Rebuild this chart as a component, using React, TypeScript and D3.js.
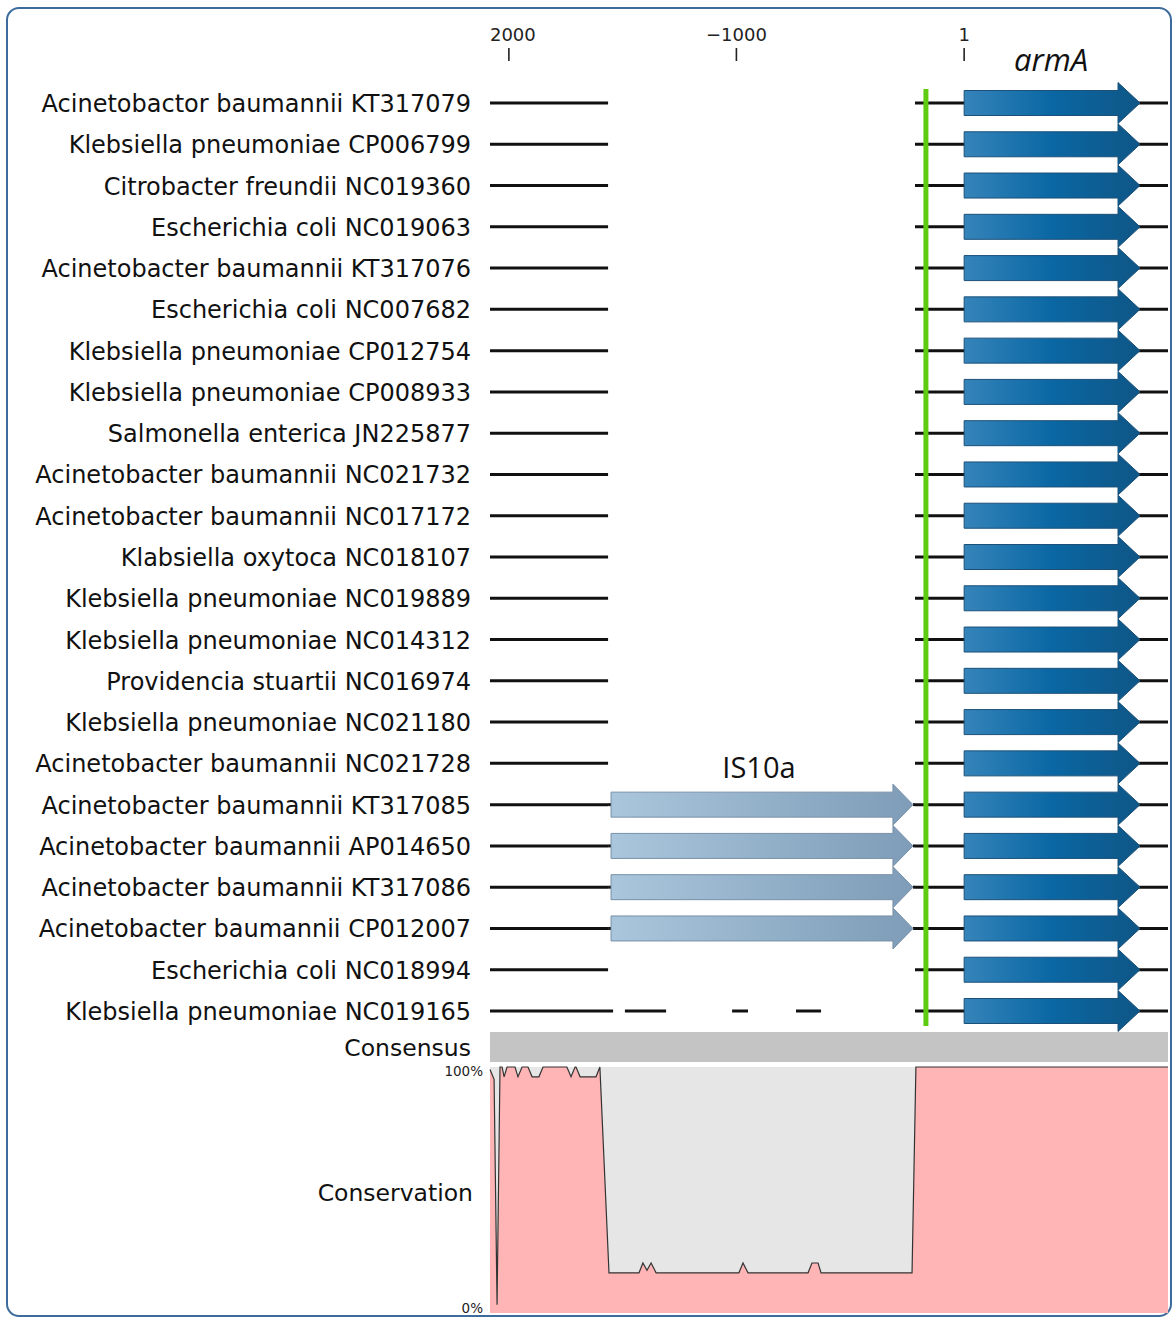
import React from "react";
import * as d3 from "d3";

// Sequence names, top to bottom
const rowNames = [
  "Acinetobactor baumannii KT317079",
  "Klebsiella pneumoniae CP006799",
  "Citrobacter freundii NC019360",
  "Escherichia coli NC019063",
  "Acinetobacter baumannii KT317076",
  "Escherichia coli NC007682",
  "Klebsiella pneumoniae CP012754",
  "Klebsiella pneumoniae CP008933",
  "Salmonella enterica JN225877",
  "Acinetobacter baumannii NC021732",
  "Acinetobacter baumannii NC017172",
  "Klabsiella oxytoca NC018107",
  "Klebsiella pneumoniae NC019889",
  "Klebsiella pneumoniae NC014312",
  "Providencia stuartii NC016974",
  "Klebsiella pneumoniae NC021180",
  "Acinetobacter baumannii NC021728",
  "Acinetobacter baumannii KT317085",
  "Acinetobacter baumannii AP014650",
  "Acinetobacter baumannii KT317086",
  "Acinetobacter baumannii CP012007",
  "Escherichia coli NC018994",
  "Klebsiella pneumoniae NC019165",
];

// Sequences that carry the IS10a insertion
const is10aCarriers = ["KT317085", "AP014650", "KT317086", "CP012007"];
// Sequence with a fragmented upstream region
const gappedRow = "NC019165";

// Positions in bp relative to the armA start codon
const alignmentSpan = [-2083, 897];
const upstreamFlank = [-2083, -1564];
const downstreamFlank = [-215, 897];
const gappedSegments = [
  [-2083, -1542],
  [-1490, -1309],
  [-1019, -949],
  [-738, -628],
  [-215, 897],
];
const is10aSpan = [-1551, -224];
const armASpan = [1, 774];
const markerPos = -167;

const axisTicks = [-2000, -1000, 1];
const axisTickLabels = ["2000", "\u22121000", "1"];

// Conservation profile (% identity along the alignment)
const consPos = [
  -2083, -2065, -2052, -2039, -2030, -2021, -2008, -1973, -1960, -1942, -1916,
  -1898, -1868, -1850, -1745, -1727, -1709, -1705, -1687, -1617, -1600, -1560,
  -1428, -1411, -1393, -1375, -1353, -989, -971, -949, -685, -668, -641, -628,
  -228, -211, 897,
];
const consPct = [
  99, 95, 3, 100, 100, 96, 100, 100, 96, 100, 100, 96, 96, 100, 100, 96, 100,
  100, 96, 96, 100, 16, 16, 20, 17, 20, 16, 16, 20, 16, 16, 20, 20, 16, 16,
  100, 100,
];

const W = 1173;
const H = 1317;

export default function App() {
  const x = d3.scaleLinear().domain(alignmentSpan).range([490, 1168]);
  const y = d3
    .scaleLinear()
    .domain([0, rowNames.length - 1])
    .range([103, 1011]);
  const yc = d3.scaleLinear().domain([0, 100]).range([1312, 1067]);

  const bodyHalf = 12.5;
  const headHalf = 20.5;

  const arrowPath = (x0: number, x1: number, head: number, cy: number) => {
    const xb = x1 - head;
    return d3.line()([
      [x0, cy - bodyHalf],
      [xb, cy - bodyHalf],
      [xb, cy - headHalf],
      [x1, cy],
      [xb, cy + headHalf],
      [xb, cy + bodyHalf],
      [x0, cy + bodyHalf],
    ]) + "Z";
  };

  const consData = consPos.map((p, i) => [p, consPct[i]] as [number, number]);
  const gapArea = d3
    .area<[number, number]>()
    .x((d) => x(d[0]))
    .y0(yc(100))
    .y1((d) => yc(d[1]))(consData);
  const consLine = d3
    .line<[number, number]>()
    .x((d) => x(d[0]))
    .y((d) => yc(d[1]))(consData);

  const labelFont = "'DejaVu Sans', Verdana, sans-serif";
  const featFont = "'Open Sans', 'DejaVu Sans', sans-serif";

  return (
    <svg
      width={W}
      height={H}
      style={{ position: "absolute", left: 0, top: 0, background: "#fff" }}
    >
      <defs>
        <linearGradient id="armGrad" x1="0" x2="1" y1="0" y2="0">
          <stop offset="0" stopColor="#3584ba" />
          <stop offset="0.5" stopColor="#0a67a3" />
          <stop offset="1" stopColor="#0f5686" />
        </linearGradient>
        <linearGradient id="isGrad" x1="0" x2="1" y1="0" y2="0">
          <stop offset="0" stopColor="#a9c6dc" />
          <stop offset="1" stopColor="#7f9cb8" />
        </linearGradient>
      </defs>

      <rect
        x={7}
        y={8}
        width={1164}
        height={1308}
        rx={12}
        fill="none"
        stroke="#3d6c9c"
        strokeWidth={2}
      />

      {/* top coordinate axis */}
      {axisTicks.map((t, i) => (
        <g key={t}>
          <text
            x={x(t) + (i === 0 ? 4 : 0)}
            y={41}
            textAnchor="middle"
            fontFamily={labelFont}
            fontSize={18}
            fill="#222"
          >
            {axisTickLabels[i]}
          </text>
          <line
            x1={x(t)}
            x2={x(t)}
            y1={48}
            y2={61}
            stroke="#222"
            strokeWidth={1.6}
          />
        </g>
      ))}

      <text
        x={x((armASpan[0] + armASpan[1]) / 2) - 1}
        y={71}
        textAnchor="middle"
        fontFamily={featFont}
        fontStyle="italic"
        fontSize={31}
        fill="#111"
      >
        armA
      </text>

      {/* sequence rows */}
      {rowNames.map((name, i) => {
        const cy = y(i);
        const acc = name.split(" ").pop() as string;
        const segs =
          acc === gappedRow ? gappedSegments : [upstreamFlank, downstreamFlank];
        const hasIS = is10aCarriers.includes(acc);
        return (
          <g key={name}>
            <text
              x={471}
              y={cy + 9}
              textAnchor="end"
              fontFamily={labelFont}
              fontSize={24}
              fill="#111"
            >
              {name}
            </text>
            {segs.map((s, j) => (
              <line
                key={j}
                x1={x(s[0])}
                x2={x(s[1])}
                y1={cy}
                y2={cy}
                stroke="#111"
                strokeWidth={3}
              />
            ))}
            {hasIS && (
              <>
                <line
                  x1={x(upstreamFlank[1])}
                  x2={x(is10aSpan[0])}
                  y1={cy}
                  y2={cy}
                  stroke="#111"
                  strokeWidth={3}
                />
                <line
                  x1={x(is10aSpan[1])}
                  x2={x(downstreamFlank[0])}
                  y1={cy}
                  y2={cy}
                  stroke="#111"
                  strokeWidth={3}
                />
                <path
                  d={arrowPath(x(is10aSpan[0]), x(is10aSpan[1]), 20, cy)}
                  fill="url(#isGrad)"
                  stroke="#7890a8"
                  strokeWidth={1}
                />
              </>
            )}
            <path
              d={arrowPath(x(armASpan[0]), x(armASpan[1]), 22, cy)}
              fill="url(#armGrad)"
              stroke="#1c5079"
              strokeWidth={1}
            />
          </g>
        );
      })}

      <text
        x={x((is10aSpan[0] + is10aSpan[1]) / 2) - 3}
        y={y(16) + 15}
        textAnchor="middle"
        fontFamily={featFont}
        fontSize={29}
        fill="#111"
      >
        IS10a
      </text>

      {/* marker line */}
      <line
        x1={x(markerPos)}
        x2={x(markerPos)}
        y1={89}
        y2={1026}
        stroke="#5ccb12"
        strokeWidth={5}
      />

      {/* consensus bar */}
      <rect
        x={x(alignmentSpan[0])}
        y={1032}
        width={x(alignmentSpan[1]) - x(alignmentSpan[0])}
        height={30}
        fill="#c4c4c4"
      />
      <text
        x={471}
        y={1056}
        textAnchor="end"
        fontFamily={labelFont}
        fontSize={23.5}
        fill="#111"
      >
        Consensus
      </text>

      {/* conservation plot */}
      <rect
        x={x(alignmentSpan[0])}
        y={yc(100)}
        width={x(alignmentSpan[1]) - x(alignmentSpan[0])}
        height={yc(0) - yc(100) + 1}
        fill="#ffb4b6"
      />
      <path d={gapArea ?? ""} fill="#e6e6e6" />
      <path d={consLine ?? ""} fill="none" stroke="#333" strokeWidth={1.2} />
      <text
        x={473}
        y={1201}
        textAnchor="end"
        fontFamily={labelFont}
        fontSize={23.5}
        fill="#111"
      >
        Conservation
      </text>
      <text
        x={483}
        y={yc(100) + 9}
        textAnchor="end"
        fontFamily={labelFont}
        fontSize={13.5}
        fill="#222"
      >
        100%
      </text>
      <text
        x={483}
        y={1313}
        textAnchor="end"
        fontFamily={labelFont}
        fontSize={13.5}
        fill="#222"
      >
        0%
      </text>
    </svg>
  );
}
